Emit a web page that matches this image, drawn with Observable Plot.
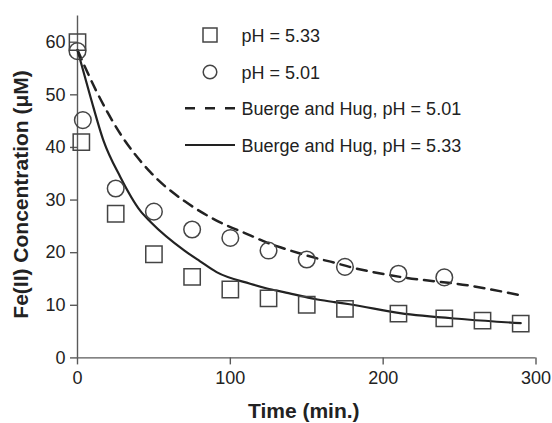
<!DOCTYPE html>
<html>
<head>
<meta charset="utf-8">
<script src="https://cdn.jsdelivr.net/npm/d3@7"></script>
<script src="https://cdn.jsdelivr.net/npm/@observablehq/plot@0.6"></script>
<style>
  html, body { margin: 0; padding: 0; background: white; }
  #chart { width: 552px; height: 423px; }
</style>
</head>
<body>
<div id="chart"></div>
<script>
// Measured data, pH = 5.33 (squares)
const time533 = [0, 2.5, 25, 50, 75, 100, 125, 150, 175, 210, 240, 265, 290];
const fe533 = [60, 41, 27.4, 19.7, 15.4, 13.0, 11.3, 10.1, 9.3, 8.4, 7.5, 7.1, 6.5];
// Measured data, pH = 5.01 (circles)
const time501 = [0, 3.5, 25, 50, 75, 100, 125, 150, 175, 210, 240];
const fe501 = [58.3, 45.2, 32.2, 27.8, 24.4, 22.8, 20.4, 18.7, 17.3, 16.0, 15.3];
// Buerge and Hug model curve, pH = 5.33 (solid)
const modelTime533 = [0, 8.5, 17, 28, 41, 48, 70, 80, 91, 113, 124, 135, 157, 168, 178, 211, 255, 290];
const modelFe533 = [58.5, 49.6, 41.3, 34.4, 28.0, 25.8, 20.4, 18.4, 16.3, 14.1, 13.2, 12.5, 11.1, 10.6, 10.2, 8.5, 7.3, 6.6];
// Buerge and Hug model curve, pH = 5.01 (dashed)
const modelTime501 = [0, 12, 28, 48, 70, 80, 91, 113, 124, 135, 157, 168, 178, 211, 255, 290];
const modelFe501 = [58.5, 50.9, 42.6, 35.2, 29.8, 27.9, 26.1, 23.3, 21.9, 20.8, 18.9, 18.1, 17.3, 15.4, 13.8, 11.9];

const xTicks = [0, 100, 200, 300];
const yTicks = [0, 10, 20, 30, 40, 50, 60];
const xLabel = "Time (min.)";
const yLabel = "Fe(II) Concentration (μM)";
const legendLabels = ["pH = 5.33", "pH = 5.01", "Buerge and Hug, pH = 5.01", "Buerge and Hug, pH = 5.33"];

const zip = (xs, ys) => xs.map((x, i) => ({x, y: ys[i]}));
const sq = zip(time533, fe533);
const ci = zip(time501, fe501);
const m533 = zip(modelTime533, modelFe533);
const m501 = zip(modelTime501, modelFe501);

const font = "'Liberation Sans', Arial, Helvetica, sans-serif";
const ink = "#222";
const axisInk = "#5a5a5a";
const markInk = "#444";

const chart = Plot.plot({
  width: 552,
  height: 423,
  marginLeft: 77,
  marginRight: 16.5,
  marginTop: 15.4,
  marginBottom: 65.6,
  x: {domain: [0, 300]},
  y: {domain: [0, 65]},
  style: {fontFamily: font, background: "white", color: ink},
  marks: [
    Plot.ruleX([0], {stroke: axisInk, strokeWidth: 1.4}),
    Plot.ruleY([0], {stroke: axisInk, strokeWidth: 1.4}),
    Plot.axisY({ticks: yTicks, tickSize: 7, tickPadding: 5, fontSize: 18, label: null, stroke: axisInk, strokeWidth: 1.4, fill: ink}),
    Plot.axisX({ticks: xTicks, tickSize: 7, tickPadding: 6, fontSize: 18, label: null, stroke: axisInk, strokeWidth: 1.4, fill: ink}),
    Plot.line(m501, {x: "x", y: "y", stroke: ink, strokeWidth: 2.5, strokeDasharray: "10,7", curve: "monotone-x"}),
    Plot.line(m533, {x: "x", y: "y", stroke: ink, strokeWidth: 2.2, curve: "monotone-x"}),
    Plot.dot(sq, {x: "x", y: "y", symbol: "square", r: 9.2, stroke: markInk, strokeWidth: 1.5, fill: "none"}),
    Plot.dot(ci, {x: "x", y: "y", symbol: "circle", r: 8.3, stroke: markInk, strokeWidth: 1.5, fill: "none"}),
    Plot.text([xLabel], {frameAnchor: "bottom", lineAnchor: "middle", textAnchor: "middle", dx: -3, dy: 53.5, fontSize: 21, fontWeight: "bold", fill: ink}),
    Plot.text([yLabel], {frameAnchor: "left", lineAnchor: "middle", textAnchor: "middle", rotate: -90, dx: -56, dy: 7.5, fontSize: 21, fontWeight: "bold", fill: ink})
  ]
});

// Legend
const svg = d3.select(chart);
const lg = svg.append("g")
  .attr("font-family", font)
  .attr("font-size", 18)
  .attr("fill", ink)
  .attr("text-anchor", "start");
const rows = [
  {y: 35, kind: "square"},
  {y: 72, kind: "circle"},
  {y: 108.3, kind: "dash"},
  {y: 145, kind: "solid"}
];
rows.forEach((r, i) => {
  if (r.kind === "square") {
    lg.append("rect").attr("x", 210 - 7).attr("y", r.y - 7).attr("width", 14).attr("height", 14)
      .attr("fill", "none").attr("stroke", markInk).attr("stroke-width", 1.5);
  } else if (r.kind === "circle") {
    lg.append("circle").attr("cx", 210).attr("cy", r.y).attr("r", 6.8)
      .attr("fill", "none").attr("stroke", markInk).attr("stroke-width", 1.5);
  } else {
    lg.append("line").attr("x1", 185).attr("x2", 235).attr("y1", r.y).attr("y2", r.y)
      .attr("stroke", ink).attr("stroke-width", r.kind === "dash" ? 2.5 : 2.2)
      .attr("stroke-dasharray", r.kind === "dash" ? "10,10" : null);
  }
  lg.append("text").attr("x", 241.5).attr("y", r.y + 6.5).attr("text-anchor", "start").text(legendLabels[i]);
});

document.getElementById("chart").appendChild(chart);
</script>
</body>
</html>
